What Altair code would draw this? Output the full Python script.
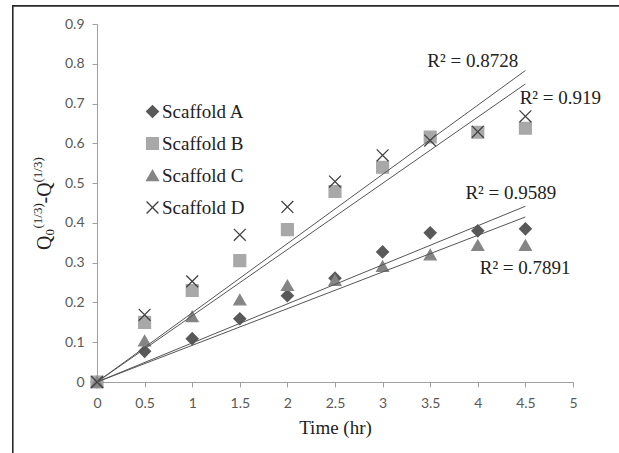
import altair as alt
import pandas as pd

# ---------------- data ----------------
times = [0, 0.5, 1, 1.5, 2, 2.5, 3, 3.5, 4, 4.5]
scaffold_a = [0, 0.077, 0.109, 0.159, 0.217, 0.261, 0.327, 0.375, 0.380, 0.385]
scaffold_b = [0, 0.150, 0.230, 0.305, 0.383, 0.479, 0.540, 0.616, 0.628, 0.638]
scaffold_c = [0, 0.104, 0.165, 0.207, 0.243, 0.256, 0.291, 0.320, 0.344, 0.344]
scaffold_d = [0, 0.169, 0.253, 0.370, 0.440, 0.504, 0.570, 0.607, 0.629, 0.668]
series_names = ["Scaffold A", "Scaffold B", "Scaffold C", "Scaffold D"]

# linear trendlines through the origin (slope)
trend_slopes = [0.0982, 0.1665, 0.0922, 0.174]
trend_x_end = 4.5

r2_labels = ["R² = 0.9589", "R² = 0.8728", "R² = 0.7891", "R² = 0.919"]
r2_x = [3.87, 3.47, 4.02, 4.44]
r2_y = [0.475, 0.806, 0.287, 0.714]

x_ticks = [0, 0.5, 1, 1.5, 2, 2.5, 3, 3.5, 4, 4.5, 5]
y_ticks = [0, 0.1, 0.2, 0.3, 0.4, 0.5, 0.6, 0.7, 0.8, 0.9]

# ---------------- tables ----------------
series_values = [scaffold_a, scaffold_b, scaffold_c, scaffold_d]
points = pd.DataFrame(
    [{"series": s, "t": t, "v": v}
     for s, vals in zip(series_names, series_values)
     for t, v in zip(times, vals)]
)
trend = pd.DataFrame(
    [{"series": s, "t": t, "v": slope * t}
     for s, slope in zip(series_names, trend_slopes)
     for t in (0, trend_x_end)]
)
r2 = pd.DataFrame({"label": r2_labels, "t": r2_x, "v": r2_y})

W, H = 476, 358
SERIF = "Liberation Serif"
SANS = "Lato"

xs = alt.Scale(domain=[0, 5], nice=False, zero=False)
ys = alt.Scale(domain=[0, 0.9], nice=False)

x_axis = alt.Axis(values=x_ticks, format=".1~f", title="Time (hr)", grid=False,
                  labelFont=SANS, labelFontSize=14, labelColor="#595959",
                  titleFont=SERIF, titleFontSize=19, titleFontWeight="normal",
                  titleColor="#222222", domainColor="#a0a0a0", tickColor="#a0a0a0",
                  tickSize=5, labelPadding=9, titlePadding=8, labelFlush=False,
                  labelOverlap=False)
y_axis = alt.Axis(values=y_ticks, format=".1~f", title=None, grid=False,
                  labelFont=SANS, labelFontSize=14, labelColor="#595959",
                  domainColor="#a0a0a0", tickColor="#a0a0a0",
                  tickSize=5, labelPadding=8, labelFlush=False,
                  labelOverlap=False)

x_path = "M-1,-1L1,1M-1,1L1,-1"

X = alt.X("t:Q", scale=xs, axis=x_axis)
Y = alt.Y("v:Q", scale=ys, axis=y_axis)

pts = alt.Chart(points).mark_point(size=140, strokeWidth=1.3, opacity=1).encode(
    x=X,
    y=Y,
    shape=alt.Shape("series:N", scale=alt.Scale(domain=series_names,
                    range=["diamond", "square", "triangle-up", x_path])),
    fill=alt.Fill("series:N", scale=alt.Scale(domain=series_names,
                  range=["#595959", "#a8a8a8", "#858585", "transparent"])),
    stroke=alt.Stroke("series:N", scale=alt.Scale(domain=series_names,
                      range=["#595959", "#a8a8a8", "#858585", "#404040"])),
    order=alt.Order("series:N"),
)

lines = alt.Chart(trend).mark_line(color="#555555", strokeWidth=1).encode(
    x=X,
    y=Y,
    detail="series:N",
)

r2_text = alt.Chart(r2).mark_text(font=SERIF, fontSize=19, align="left",
                                 baseline="middle", color="#222222").encode(
    x=X,
    y=Y,
    text="label:N",
)

one = alt.Data(values=[{"k": 1}])


def piece(txt, x, y, size):
    return alt.Chart(one).mark_text(font=SERIF, fontSize=size, angle=270,
                                     align="left", baseline="middle",
                                     color="#222222").encode(
        x=alt.value(x), y=alt.value(y), text=alt.value(txt))


# y-axis title  Q0^(1/3) - Q^(1/3), built from pieces (rotated, reads upward)
cx = -52
base = 226
title_pieces = [
    piece("Q", cx, base, 20),
    piece("0", cx + 5, base - 14.5, 13),
    piece("(1/3)", cx - 7, base - 21.5, 13),
    piece("-Q", cx, base - 46.5, 20),
    piece("(1/3)", cx - 7, base - 67.5, 13),
]

# picture frame (left and top edges of the original figure box)
frame_left = alt.Chart(one).mark_rect(color="#2a2a2a").encode(
    x=alt.value(-85), x2=alt.value(-83.4), y=alt.value(-19), y2=alt.value(H + 80))
frame_top = alt.Chart(one).mark_rect(color="#2a2a2a").encode(
    x=alt.value(-85), x2=alt.value(W + 50), y=alt.value(-19), y2=alt.value(-17.2))

chart = alt.layer(
    frame_left, frame_top, pts, lines, r2_text, *title_pieces
).properties(
    width=W, height=H,
    autosize=alt.AutoSizeParams(type="none"),
    padding={"left": 97, "top": 24, "right": 619 - 97 - W, "bottom": 453 - 24 - H},
    background="white",
).configure_view(
    stroke=None
).configure_legend(
    orient="none", legendX=46, legendY=78, title=None,
    labelFont=SERIF, labelFontSize=19, labelColor="#222222",
    symbolSize=140, symbolStrokeWidth=1.3, rowPadding=12, labelOffset=0,
    symbolType="circle",
)

chart.save("out.html", embed_options={"renderer": "svg", "actions": False})
